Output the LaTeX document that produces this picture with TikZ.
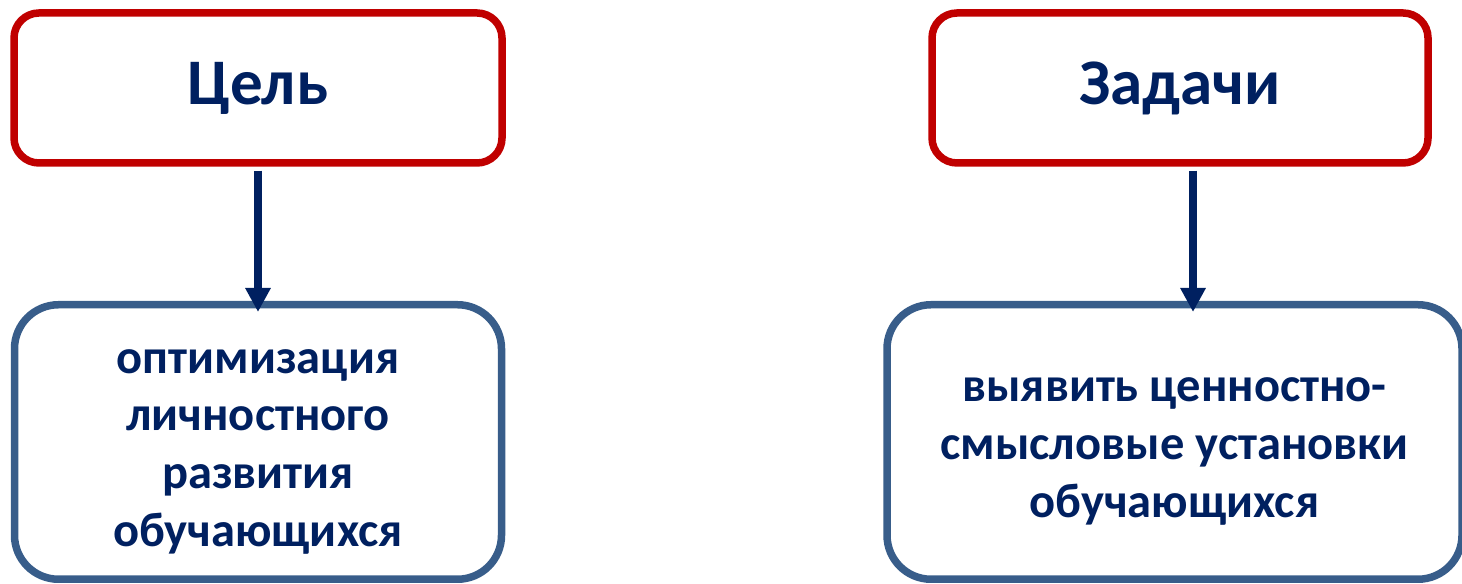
\documentclass[tikz,border=0pt]{standalone}
\usepackage{fontspec}
\setmainfont{Carlito}
\usepackage{tikz}
\usetikzlibrary{arrows.meta,positioning}
\definecolor{boxred}{HTML}{C00000}
\definecolor{boxblue}{HTML}{385D8A}
\definecolor{inknavy}{HTML}{002060}
\tikzset{>={Triangle[width=0.24cm,length=0.24cm]},head node/.style={rectangle,draw=boxred,line width=0.075cm,rounded corners=0.25cm,minimum height=1.5cm,text=inknavy,font=\fontsize{18.5}{22}\selectfont\bfseries},body node/.style={rectangle,draw=boxblue,line width=0.075cm,rounded corners=0.44cm,minimum height=2.745cm,align=center,text=inknavy,font=\fontsize{13.8}{16.4}\selectfont\bfseries},edge/.style={->,draw=inknavy,line width=0.08cm,shorten <=0.04cm,shorten >=-0.11cm}}

\begin{document}
\begin{tikzpicture}
    \useasboundingbox (0,0) rectangle (14.62,5.84);
    \node[head node, minimum width=4.88cm] (goal) at (2.58,4.96) {Цель};
    \node[head node, minimum width=4.96cm] (tasks) at (11.80,4.96) {Задачи};
    \node[body node, on grid, minimum width=4.87cm] (goaltext) [below = 3.54cm of goal] {\rule{0pt}{0.43cm}оптимизация\\личностного\\развития\\обучающихся};
    \node[body node, on grid, minimum width=5.75cm] (tasktext) [below left = 3.54cm and 0.055cm of tasks] {\rule{0pt}{0.43cm}выявить ценностно-\\смысловые установки\\обучающихся};
    \draw[edge] (goal) -- (goaltext);
    \draw[edge] ([xshift=0.13cm]tasks.south) -- ([xshift=0.13cm]tasks.south |- tasktext.north);
  \end{tikzpicture}
\end{document}
